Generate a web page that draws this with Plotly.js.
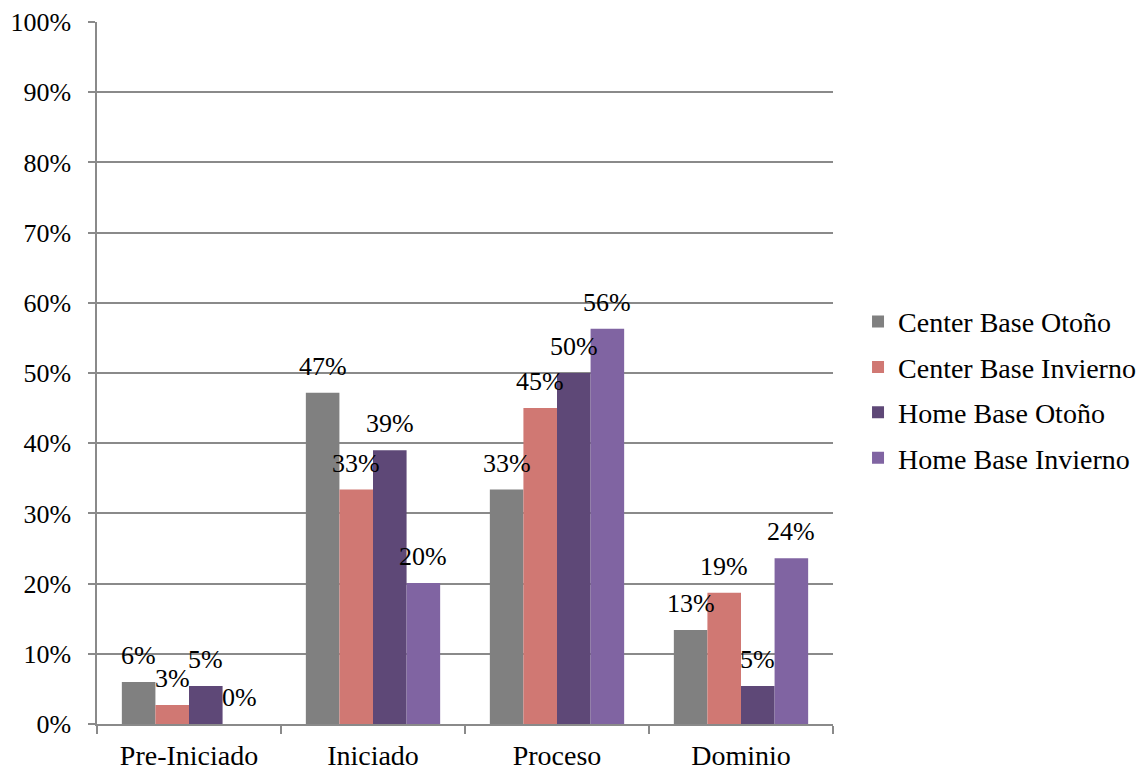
<!DOCTYPE html>
<html>
<head>
<meta charset="utf-8">
<script src="https://cdn.plot.ly/plotly-3.0.1.min.js"></script>
</head>
<body style="margin:0">
<div id="chart" style="width:1141px;height:770px;"></div>
<script>
var categories = ["Pre-Iniciado", "Iniciado", "Proceso", "Dominio"];
var seriesNames = ["Center Base Otoño", "Center Base Invierno", "Home Base Otoño", "Home Base Invierno"];
var centerOtono = [0.06, 0.472, 0.334, 0.134];
var centerInvierno = [0.027, 0.334, 0.45, 0.187];
var homeOtono = [0.054, 0.39, 0.50, 0.054];
var homeInvierno = [0.0, 0.201, 0.563, 0.236];
var colors = ["#808080", "#D07873", "#5E4877", "#8064A2"];

var allSeries = [centerOtono, centerInvierno, homeOtono, homeInvierno];
var FONT = "Liberation Serif";
var bargap = 0.27;

var traces = allSeries.map(function (vals, j) {
  return {
    type: "bar",
    name: seriesNames[j],
    x: categories,
    y: vals,
    marker: {color: colors[j]},
    legendgroup: "g" + j,
    hoverinfo: "skip"
  };
});

var annotations = [];
allSeries.forEach(function (vals, j) {
  vals.forEach(function (v, i) {
    annotations.push({
      x: i + (j - 1.5) * (1 - bargap) / 4,
      y: v,
      xref: "x", yref: "y",
      text: Math.round(v * 100) + "%",
      showarrow: false,
      yanchor: "bottom",
      xanchor: "center",
      yshift: 10,
      font: {family: FONT, size: 26, color: "#000"}
    });
  });
});

var layout = {
  width: 1141, height: 770,
  margin: {l: 97, r: 308, t: 22, b: 46, autoexpand: false},
  paper_bgcolor: "#fff", plot_bgcolor: "#fff",
  font: {family: FONT, size: 26, color: "#000"},
  barmode: "group",
  bargap: bargap,
  bargroupgap: 0,
  showlegend: true,
  legend: {
    x: 1.034, xanchor: "left", y: 0.476, yanchor: "middle",
    xref: "paper",
    font: {family: FONT, size: 28, color: "#000"},
    traceorder: "grouped",
    tracegroupgap: 6,
    itemwidth: 30
  },
  xaxis: {
    type: "category",
    showline: true, linecolor: "#8a8a8a", linewidth: 1.5,
    ticks: "outside", tickson: "boundaries", ticklen: 8, tickcolor: "#8a8a8a", tickwidth: 1.5,
    showgrid: false,
    ticklabelstandoff: 6,
    tickfont: {family: FONT, size: 28, color: "#000"},
    fixedrange: true
  },
  yaxis: {
    range: [0, 1],
    dtick: 0.1,
    tickformat: ".0%",
    showline: true, linecolor: "#8a8a8a", linewidth: 1.5,
    ticks: "outside", ticklen: 7, tickcolor: "#8a8a8a", tickwidth: 1.5,
    showgrid: true, gridcolor: "#8a8a8a", gridwidth: 1.5,
    zeroline: false,
    ticklabelstandoff: 12,
    tickfont: {family: FONT, size: 26, color: "#000"},
    fixedrange: true
  },
  annotations: annotations
};

Plotly.newPlot("chart", traces, layout, {displayModeBar: false});
</script>
</body>
</html>
